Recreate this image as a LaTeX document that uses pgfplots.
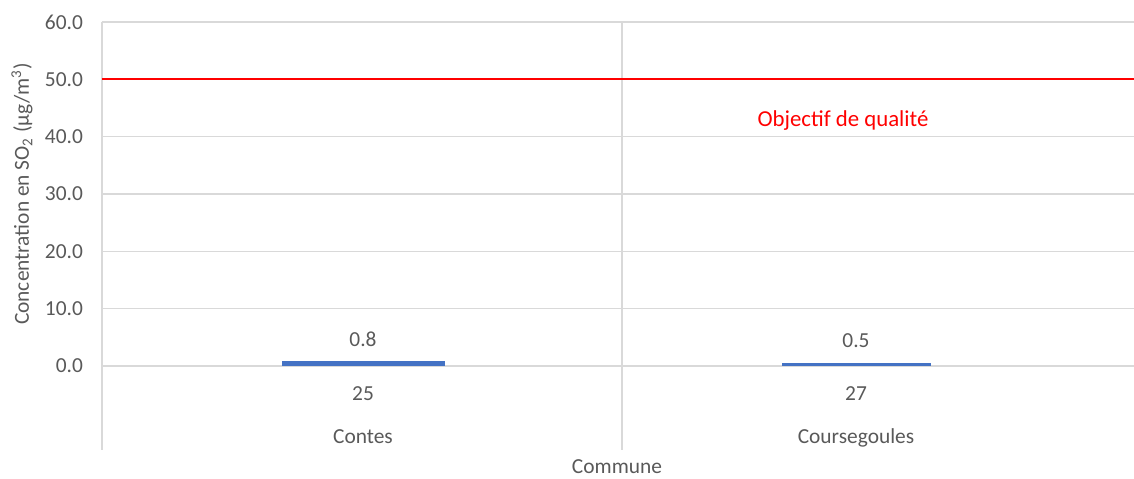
\documentclass[border=0pt]{standalone}
\usepackage{pgfplots}
\pgfplotsset{compat=1.18}
\usepackage{fontspec}
\setmainfont{Carlito}
\definecolor{txtgray}{HTML}{595959}
\definecolor{gridgray}{HTML}{D9D9D9}
\definecolor{barblue}{HTML}{4472C4}
\begin{document}
\begin{tikzpicture}
\begin{axis}[
  scale only axis,
  width=516pt, height=172pt,
  xmin=102, xmax=1134,
  ymin=0, ymax=60,
  ytick={0,10,...,60},
  xtick={363,856},
  xticklabels={{25\\[8.5pt]Contes},{27\\[8.5pt]Coursegoules}},
  xticklabel style={align=center, anchor=north, yshift=-7pt, text=txtgray, font=\fontsize{10.7}{13}\selectfont},
  yticklabel style={text=txtgray, font=\fontsize{10.7}{13}\selectfont, xshift=-6pt},
  /pgf/number format/assume math mode=true,
  yticklabel={\pgfmathprintnumber[fixed,fixed zerofill,precision=1]{\tick}},
  major tick length=0pt,
  axis line style={draw=none},
  ymajorgrids,
  grid style={gridgray, line width=0.75pt},
  clip=false,
  ylabel={Concentration en SO\textsubscript{2} (µg/m\textsuperscript{3})},
  ylabel style={at={(axis cs:22,30)}, anchor=center, text=txtgray, font=\fontsize{10.7}{13}\selectfont},
  xlabel={Commune},
  xlabel style={at={(axis cs:617,0)}, anchor=center, yshift=-50.5pt, text=txtgray, font=\fontsize{10.7}{13}\selectfont},
]
% category separators of the multi-level axis
\draw[gridgray, line width=0.75pt] (axis cs:102,60) -- (axis cs:102,-14.7);
\draw[gridgray, line width=0.75pt] (axis cs:622,60) -- (axis cs:622,-14.7);
% measured concentrations
\addplot[ybar, bar shift=0pt, bar width=81.5pt, fill=barblue, draw=none,
  nodes near coords={\pgfmathprintnumber[fixed,fixed zerofill,precision=1]{\pgfplotspointmeta}},
  nodes near coords style={anchor=south, yshift=4pt, text=txtgray, font=\fontsize{10.7}{13}\selectfont}]
  coordinates {(363,0.8)};
\addplot[ybar, bar shift=0pt, bar width=74.5pt, fill=barblue, draw=none,
  nodes near coords={\pgfmathprintnumber[fixed,fixed zerofill,precision=1]{\pgfplotspointmeta}},
  nodes near coords style={anchor=south, yshift=4pt, text=txtgray, font=\fontsize{10.7}{13}\selectfont}]
  coordinates {(856,0.5)};
% quality objective
\addplot[red, line width=1pt] coordinates {(102,50) (1134,50)};
\node[text=red, font=\fontsize{11.4}{14}\selectfont] at (axis cs:843,42.9) {Objectif de qualité};
\end{axis}
\pgfresetboundingbox
\useasboundingbox (-51pt,-56pt) rectangle (516pt,183pt);
\end{tikzpicture}
\end{document}
